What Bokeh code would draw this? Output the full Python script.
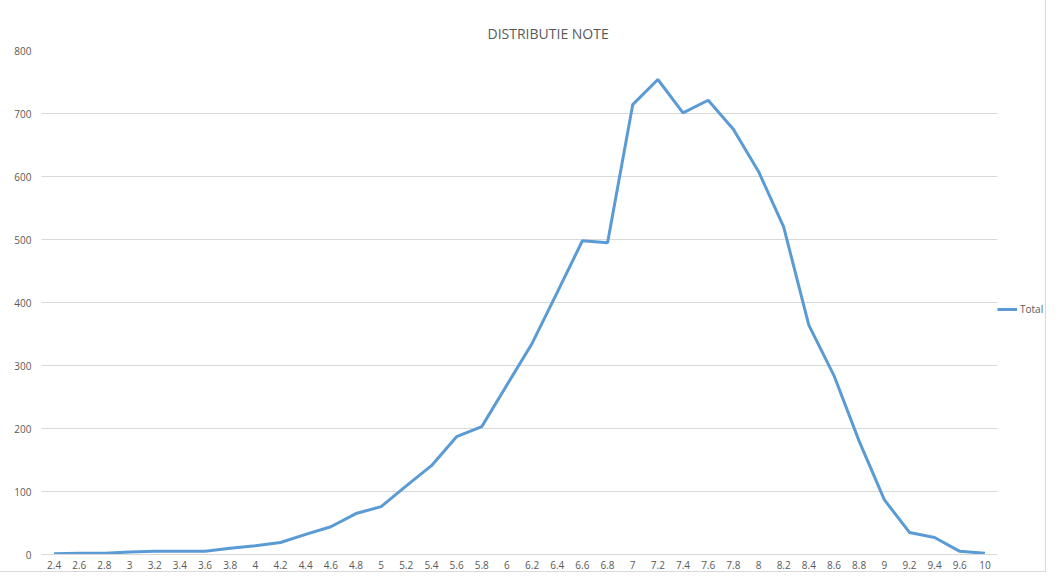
from bokeh.plotting import figure
from bokeh.models import Range1d, SingleIntervalTicker, FixedTicker, Legend, LegendItem, Title
from bokeh.embed import file_html
from bokeh.resources import INLINE

categories = ["2.4", "2.6", "2.8", "3", "3.2", "3.4", "3.6", "3.8", "4", "4.2",
              "4.4", "4.6", "4.8", "5", "5.2", "5.4", "5.6", "5.8", "6", "6.2",
              "6.4", "6.6", "6.8", "7", "7.2", "7.4", "7.6", "7.8", "8", "8.2",
              "8.4", "8.6", "8.8", "9", "9.2", "9.4", "9.6", "10"]
total = [1, 2, 2, 4, 5, 5, 5, 10, 14, 19,
         32, 44, 65, 76, 109, 141, 187, 203, 269, 335,
         416, 498, 495, 714, 754, 701, 721, 675, 608, 520,
         364, 284, 180, 87, 35, 27, 5, 2]

FONT = "Open Sans"
GREY = "#595959"

n = len(categories)
xpos = [i + 0.5 for i in range(n)]
# frame extends past the last category to leave room for the legend
x_end = n * (1045 - 41) / 956.0

p = figure(x_range=Range1d(0, x_end), y_range=Range1d(0, 800),
           width=1045, height=571, output_backend="svg", toolbar_location=None,
           min_border_left=41, min_border_right=0, min_border_top=50, min_border_bottom=14)
p.styles = {"outline": "1px solid #d9d9d9"}

p.add_layout(Title(text="DISTRIBUTIE NOTE", align="left", offset=446,
                   text_font=FONT, text_font_size="14px", text_font_style="normal",
                   text_color=GREY, standoff=16), "above")

line = p.line(xpos, total, line_color="#5B9BD5", line_width=3)

p.outline_line_color = None
p.xgrid.grid_line_color = None
p.ygrid.grid_line_color = "#d9d9d9"
p.ygrid.grid_line_width = 1
p.ygrid.cross_bounds = (0, n)

p.xaxis.ticker = FixedTicker(ticks=xpos)
p.xaxis.major_label_overrides = {x: c for x, c in zip(xpos, categories)}
p.xaxis.bounds = (0, n)
p.yaxis.ticker = SingleIntervalTicker(interval=100)
for ax in (p.xaxis, p.yaxis):
    ax.major_tick_line_color = None
    ax.minor_tick_line_color = None
    ax.major_label_text_font = FONT
    ax.major_label_text_font_size = "10px"
    ax.major_label_text_color = GREY
p.yaxis.axis_line_color = None
p.xaxis.axis_line_color = "#d9d9d9"
p.yaxis.major_label_standoff = 4
p.xaxis.major_label_standoff = 0

legend = Legend(items=[LegendItem(label="Total", renderers=[line])],
                location=(956, 238), margin=0, padding=0,
                border_line_color=None, background_fill_alpha=0,
                glyph_width=20, glyph_height=12, label_standoff=3,
                label_text_font=FONT, label_text_font_size="10px",
                label_text_color=GREY)
p.add_layout(legend, "center")

open("out.html", "w").write(file_html(p, INLINE))
